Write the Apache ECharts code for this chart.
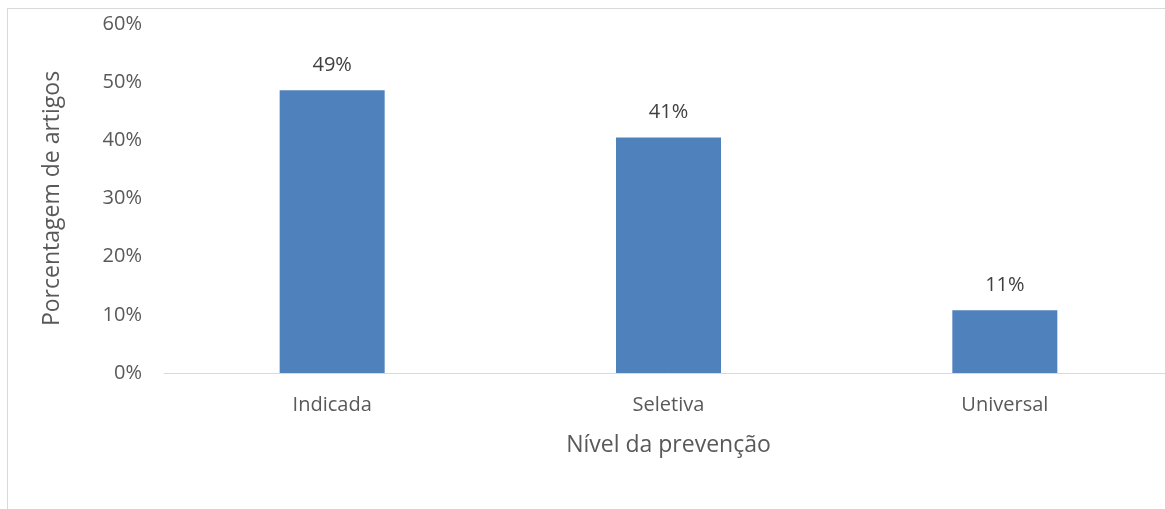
<!DOCTYPE html>
<html>
<head>
<meta charset="utf-8">
<script src="https://cdn.jsdelivr.net/npm/echarts@6/dist/echarts.min.js"></script>
<style>
  html, body { margin: 0; padding: 0; background: #fff; overflow: hidden; }
  #frame { position: absolute; left: 7px; top: 8px; width: 1180px; height: 520px; border: 1px solid #d9d9d9; box-sizing: border-box; }
  #chart { position: absolute; left: 0; top: 0; width: 1185px; height: 509px; }
</style>
</head>
<body>
<div id="frame"></div>
<div id="chart"></div>
<script>
// Share of articles per prevention level
const categories = ['Indicada', 'Seletiva', 'Universal'];
const percentages = [48.6, 40.5, 10.8];
const yTicks = [0, 10, 20, 30, 40, 50, 60];

const chart = echarts.init(document.getElementById('chart'), null, { renderer: 'canvas' });
const fontFamily = '"Open Sans", "Noto Sans", sans-serif';

chart.setOption({
  animation: false,
  grid: { left: 164, top: 24, width: 1009, bottom: 136, containLabel: false },
  xAxis: {
    type: 'category',
    data: categories,
    name: 'Nível da prevenção',
    nameLocation: 'middle',
    nameGap: 61,
    nameTextStyle: { fontFamily, fontSize: 23, color: '#595959' },
    axisLine: { lineStyle: { color: '#d9d9d9', width: 1 } },
    axisTick: { show: false },
    axisLabel: { fontFamily, fontSize: 20, color: '#595959', margin: 22 }
  },
  yAxis: {
    type: 'value',
    min: yTicks[0],
    max: yTicks[yTicks.length - 1],
    interval: 10,
    name: 'Porcentagem de artigos',
    nameLocation: 'middle',
    nameGap: 100,
    nameTextStyle: { fontFamily, fontSize: 23, color: '#595959' },
    axisLine: { show: false },
    axisTick: { show: false },
    splitLine: { show: false },
    axisLabel: { fontFamily, fontSize: 20, color: '#595959', margin: 22, formatter: v => v + '%' }
  },
  series: [{
    type: 'bar',
    data: percentages,
    barWidth: 105,
    itemStyle: { color: '#4f81bd' },
    label: {
      show: true,
      position: 'top',
      distance: 15,
      fontFamily,
      fontSize: 20,
      color: '#404040',
      formatter: p => Math.round(p.value) + '%'
    }
  }]
});
</script>
</body>
</html>
